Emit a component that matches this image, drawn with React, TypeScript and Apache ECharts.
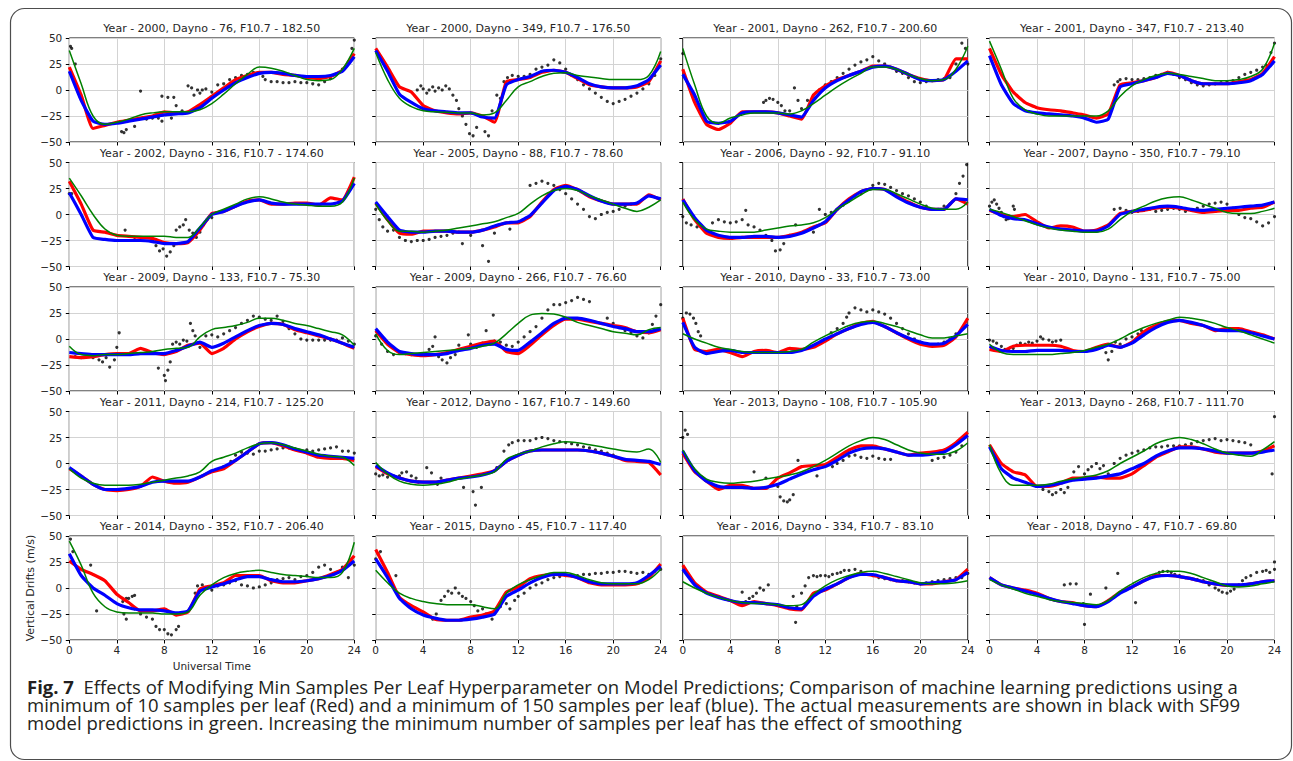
import React, { useEffect, useRef } from 'react';
import * as echarts from 'echarts';

const HOURS = [0, 1, 2, 3, 4, 5, 6, 7, 8, 9, 10, 11, 12, 13, 14, 15, 16, 17, 18, 19, 20, 21, 22, 23, 24];
const X_TICKS = [0, 4, 8, 12, 16, 20, 24];
const Y_TICKS = [-50, -25, 0, 25, 50];

const TITLES = [
  'Year - 2000, Dayno - 76, F10.7 - 182.50',
  'Year - 2000, Dayno - 349, F10.7 - 176.50',
  'Year - 2001, Dayno - 262, F10.7 - 200.60',
  'Year - 2001, Dayno - 347, F10.7 - 213.40',
  'Year - 2002, Dayno - 316, F10.7 - 174.60',
  'Year - 2005, Dayno - 88, F10.7 - 78.60',
  'Year - 2006, Dayno - 92, F10.7 - 91.10',
  'Year - 2007, Dayno - 350, F10.7 - 79.10',
  'Year - 2009, Dayno - 133, F10.7 - 75.30',
  'Year - 2009, Dayno - 266, F10.7 - 76.60',
  'Year - 2010, Dayno - 33, F10.7 - 73.00',
  'Year - 2010, Dayno - 131, F10.7 - 75.00',
  'Year - 2011, Dayno - 214, F10.7 - 125.20',
  'Year - 2012, Dayno - 167, F10.7 - 149.60',
  'Year - 2013, Dayno - 108, F10.7 - 105.90',
  'Year - 2013, Dayno - 268, F10.7 - 111.70',
  'Year - 2014, Dayno - 352, F10.7 - 206.40',
  'Year - 2015, Dayno - 45, F10.7 - 117.40',
  'Year - 2016, Dayno - 334, F10.7 - 83.10',
  'Year - 2018, Dayno - 47, F10.7 - 69.80',
];

// SF99 model (green), hourly
const GREEN = [
  [38, 6, -25, -33, -31, -28, -24, -22, -21, -21, -21, -19, -13, -4, 6, 15, 22, 21, 18, 14, 10, 9, 10, 20, 40],
  [36, 10, -8, -16, -20, -21, -21.5, -22, -22, -24, -22, -10, 3, 8, 13, 16, 16.5, 14, 12.5, 11, 10, 10, 10, 14, 37],
  [40, 5, -25, -32, -27, -24, -22, -22, -22, -23, -20, -13, -5, 3, 10, 16, 22, 22, 20, 15, 11, 9, 10, 20, 42],
  [47, 20, -8, -19, -23, -25, -25, -25, -25, -25, -20, -6, 4, 10, 14, 16, 15, 13, 11, 9, 9, 10, 13, 20, 45],
  [35, 18, 0, -14, -20, -21, -21, -21, -21, -22, -22, -12, 0, 5, 10, 15, 17, 15, 12, 10, 9, 8, 8, 12, 35],
  [10, -6, -16, -16, -17, -16, -15, -13, -11, -9, -7, -3, 1, 10, 18, 23, 25, 23, 18, 14, 10, 6, 3, 7, 14],
  [12, -5, -14, -16, -17, -17, -17, -15, -13, -11, -10, -8, -3, 5, 12, 19, 24, 24, 20, 15, 10, 6, 5, 5, 12],
  [5, 2, -2, -6, -10, -13, -15, -16, -17, -17, -14, -5, 3, 8, 13, 16, 17, 14, 10, 6, 2, 1, 1, 3, 6],
  [-7, -15, -16, -15, -15, -14, -13, -12, -10, -9, -8, 2, 9, 11, 13, 16, 20, 20, 18, 15, 13, 10, 7, 4, -6],
  [5, -11, -15, -14, -13, -12, -11, -10, -9, -7, -4, 5, 15, 23, 24.5, 24, 21, 16, 13, 10, 7, 5.5, 4, 9, 11],
  [5, 0, -4, -8, -10, -12, -13, -13, -13, -12, -10, -3, 3, 8, 13, 16, 17, 15, 12, 8, 4, 1, 1, 3, 5],
  [-5, -13, -15, -15, -15, -15, -14, -13, -11, -8, -5, 0, 6, 11, 15, 18, 21, 20, 18, 15, 11, 8, 4, 0, -4],
  [-5, -14, -19, -21, -21, -21, -20, -18, -16, -14, -12, -8, 2, 6, 10, 15, 19, 20, 18, 15, 12, 9, 7, 6, -2],
  [1, -10, -17, -20, -21, -20, -18, -15, -13, -11, -8, 4, 9, 12, 16, 19, 21, 20, 18, 16, 14, 12, 11, 14, 1],
  [13, -5, -15, -18, -19, -18, -17, -15, -13, -11, -8, -3, 3, 10, 17, 22, 25, 23, 18, 13, 10, 9, 9, 12, 20],
  [18, -10, -21, -21, -21, -20, -17, -15, -13, -11, -7, 0, 6, 12, 19, 23, 25, 23, 19, 14, 10, 8, 7, 13, 21],
  [45, 22, -5, -18, -23, -24, -24, -24, -25, -25, -23, -7, 3, 10, 14, 16, 17, 15, 13, 12, 11, 10, 10, 15, 44],
  [17, 5, -5, -10, -13, -15, -16, -16, -16, -18, -20, -5, 3, 8, 12, 15, 15, 12, 8, 5, 4, 4, 4, 8, 18],
  [6, 0, -5, -9, -12, -14, -15, -15, -16, -17, -16, -6, 2, 8, 12, 15, 16, 14, 11, 8, 5, 4, 4, 5, 7],
  [8, 3, -1, -5, -8, -11, -13, -14, -15, -16, -12, -3, 4, 10, 14, 16, 16, 14, 10, 6, 2, 1, 2, 4, 6],
];

// ML prediction, min 10 samples per leaf (red), hourly
const RED = [
  [22, -5, -37, -34, -31, -29, -27, -25, -21, -22, -21, -14, -6, 2, 10, 14, 17, 17, 15, 14, 12, 11, 13, 19, 35],
  [40, 22, 3, -2, -15, -20, -22, -23, -22, -25, -31, 8, 10, 12, 17, 19, 17, 11, 5, 3, 2, 2, 3, 8, 28],
  [20, -12, -33, -38, -32, -21, -21, -21, -22, -25, -28, -5, 4, 10, 14, 18, 23, 23, 20, 15, 11, 9, 10, 30, 30],
  [40, 15, -2, -12, -17, -19, -20, -22, -24, -27, -23, 5, 7, 9, 12, 17, 14, 9, 6, 6, 6, 8, 10, 16, 32],
  [32, 10, -15, -17, -20, -21, -22, -23, -27, -28, -27, -15, 1, 3, 8, 13, 14, 10, 10, 11, 11, 9, 16, 14, 36],
  [11, -5, -18, -19, -16, -16, -16, -17, -17, -15, -12, -8, -8, -2, 12, 24, 28, 24, 17, 13, 10, 10, 10, 19, 14],
  [15, -5, -18, -22, -23, -22, -22, -22, -22, -20, -17, -12, -8, 5, 15, 22, 25, 24, 18, 12, 7, 5, 5, 15, 10],
  [4, 0, -2, 0, -7, -13, -11, -12, -16, -15, -10, 1, 3, 4, 6, 7, 6, 4, 2, 3, 4, 4, 6, 7, 12],
  [-17, -18, -17, -15, -14, -14, -9, -13, -15, -12, -6, -4, -14, -9, 0, 7, 12, 15, 14, 9, 6, 3, 0, -4, -9],
  [8, -5, -13, -15, -16, -15, -13, -10, -7, -4, -2, -12, -14, -6, 4, 13, 19, 19, 17, 15, 13, 11, 7, 6, 9],
  [20, -10, -12, -10, -13, -17, -12, -11, -13, -9, -10, -8, -2, 5, 10, 15, 17, 12, 6, 0, -5, -7, -6, 2, 20],
  [-10, -12, -7, -6, -6, -6, -7, -11, -12, -8, -5, -8, -3, 7, 13, 17, 18, 15, 13, 8, 10, 10, 7, 4, 0],
  [-5, -12, -20, -25, -26, -25, -22, -13, -17, -19, -18, -13, -8, -5, 3, 11, 19, 20, 17, 13, 10, 6, 5, 5, 3],
  [-3, -10, -14, -17, -18, -18, -16, -14, -12, -10, -7, 2, 8, 12, 13, 13, 13, 13, 12, 10, 7, 3, 2, 1, -11],
  [10, -8, -17, -25, -21, -21, -24, -24, -14, -9, -3, -2, -1, 6, 13, 17, 17, 14, 11, 8, 10, 11, 13, 20, 30],
  [18, 0, -8, -11, -22, -22, -19, -14, -14, -13, -14, -14, -10, -2, 6, 11, 16, 16, 14, 11, 10, 10, 10, 12, 17],
  [26, 18, 13, 7, -6, -14, -22, -22, -20, -26, -23, -1, 2, 5, 12, 12, 12, 7, 5, 5, 7, 9, 13, 18, 31],
  [37, 15, -9, -17, -23, -30, -31, -31, -28, -26, -22, -4, 1, 9, 12, 13, 12, 10, 5, 3, 3, 3, 4, 10, 23],
  [22, 5, -4, -8, -12, -17, -13, -15, -17, -20, -21, -5, -2, 4, 10, 14, 12, 10, 7, 6, 4, 4, 6, 8, 18],
  [10, 3, 0, -2, -5, -10, -13, -14, -17, -18, -12, -4, 1, 7, 12, 12, 11, 9, 6, 4, 2.5, 2.5, 4, 6, 7],
];

// ML prediction, min 150 samples per leaf (blue), hourly
const BLUE = [
  [18, -10, -30, -33, -32, -30, -28, -26, -24, -23, -22, -17, -8, 0, 7, 12, 16, 17, 16, 14, 13, 13, 14, 18, 32],
  [38, 18, -4, -12, -18, -20, -21, -22, -22, -26, -27, 5, 10, 13, 18, 19, 17, 12, 6, 3, 2, 2, 4, 10, 24],
  [15, -5, -30, -32, -30, -22, -21, -21, -22, -24, -26, -10, 2, 9, 14, 18, 22, 23, 20, 15, 10, 9, 10, 18, 28],
  [33, 5, -13, -20, -22, -23, -24, -25, -27, -31, -28, 3, 6, 9, 12, 16, 14, 9, 6, 6, 6, 7, 9, 15, 28],
  [21, 0, -22, -24, -25, -25, -25, -26, -28, -28, -26, -13, 0, 3, 8, 12, 14, 11, 10, 10, 10, 10, 10, 13, 30],
  [12, -2, -15, -17, -17, -16, -16, -17, -17, -15, -11, -8, -7, -1, 11, 23, 27, 24, 18, 13, 10, 10, 11, 18, 15],
  [14, -3, -15, -20, -22, -22, -21, -21, -22, -21, -18, -13, -7, 5, 14, 22, 25, 24, 17, 11, 7, 5, 5, 15, 14],
  [5, -1, -4, -5, -9, -12, -14, -15, -16, -16, -11, 0, 3, 5, 7, 8, 7, 5, 4, 5, 6, 7, 8, 9, 12],
  [-13, -14, -15, -15, -15, -15, -14, -14, -14, -11, -7, -3, -8, -4, 2, 8, 13, 15, 14, 10, 7, 4, 0, -4, -8],
  [10, -3, -12, -14, -15, -15, -14, -11, -9, -6, -5, -10, -11, -3, 6, 15, 20, 20, 18, 15, 12, 10, 7, 7, 10],
  [16, -8, -14, -12, -11, -13, -13, -13, -13, -13, -11, -6, 0, 5, 10, 14, 16, 12, 6, 1, -3, -5, -4, 3, 14],
  [-7, -11, -12, -12, -11, -11, -11, -12, -12, -10, -6, -8, -4, 4, 11, 16, 18, 16, 13, 9, 8, 8, 6, 3, 0],
  [-4, -12, -20, -25, -25, -24, -22, -18, -17, -17, -17, -13, -7, -3, 3, 11, 19, 20, 18, 14, 11, 8, 7, 6, 5],
  [-2, -9, -14, -17, -18, -18, -16, -14, -13, -11, -7, 2, 8, 12, 13, 13, 13, 13, 12, 10, 7, 4, 3, 2, -1],
  [12, -7, -17, -22, -23, -23, -24, -23, -20, -15, -10, -6, -3, 3, 10, 14, 15, 14, 11, 8, 8, 9, 11, 18, 27],
  [16, -5, -14, -18, -22, -21, -19, -16, -15, -14, -12, -10, -5, 0, 7, 12, 15, 15, 14, 12, 10, 10, 10, 11, 13],
  [33, 12, 0, -7, -15, -19, -21, -21, -22, -24, -22, -3, 1, 4, 8, 11, 11, 8, 6, 6, 7, 9, 12, 17, 26],
  [28, 10, -10, -20, -26, -29, -31, -31, -30, -28, -25, -8, -2, 5, 10, 13, 13, 10, 6, 4, 4, 4, 5, 12, 21],
  [18, 3, -5, -9, -12, -14, -14, -15, -16, -19, -20, -8, -1, 4, 10, 13, 13, 10, 7, 6, 4, 5, 6, 8, 15],
  [10, 3, 0, -3, -6, -10, -13, -15, -17, -18, -13, -5, 1, 7, 11, 12, 11, 9, 6, 4, 3, 3, 4, 6, 7],
];

// Actual measurements (black), [UT, drift]
const BLACK = [
  [[0.1, 42], [0.2, 40], [0.5, 25], [6, -1], [4.4, -40], [4.6, -41], [4.8, -38], [5.5, -35], [6.5, -28], [7, -27], [7.5, -27], [7.8, -30], [7.8, -6], [8.3, -7], [8.8, -7], [9, -15], [8.6, -27], [9.5, -20], [10, 4], [10.3, 2], [10.5, -5], [10.8, 0], [11, -3], [11.2, 0], [11.5, 1], [12, -2], [12.5, 5], [13, 6], [13.5, 10], [14, 12], [14.5, 14], [15, 15], [15.5, 17], [16, 16], [16.3, 13], [16.5, 10], [17, 8], [17.5, 8], [18, 7], [18.5, 7], [19, 8], [19.5, 7], [20, 7], [20.5, 6], [21, 5], [21.5, 8], [22, 11], [22.5, 15], [23, 20], [23.5, 27], [23.8, 40], [24, 48]],
  [[3.5, 0], [3.8, 4], [4, 1], [4.3, -3], [4.5, 0], [4.8, 3], [5, -1], [5.3, 2], [5.6, 0], [5.9, 4], [6.2, 1], [6.5, -5], [6.8, -10], [7, -18], [7.3, -25], [7.6, -33], [7.9, -42], [8.2, -44], [8.5, -36], [8.8, -25], [9.2, -40], [9.5, -44], [9.8, -20], [10.2, -5], [10.5, -8], [10.8, 8], [11.1, 12], [11.5, 14], [12, 13], [12.5, 13], [13, 15], [13.5, 20], [14, 22], [14.5, 24], [15, 29], [15.5, 26], [16, 20], [16.5, 14], [17, 10], [17.5, 5], [18, 1], [18.5, -3], [19, -7], [19.5, -11], [20, -13], [20.5, -11], [21, -9], [21.5, -6], [22, -3], [22.5, 1], [23, 6], [23.5, 14], [24, 30]],
  [[0, 35], [6.8, -12], [7, -10], [7.3, -8], [7.6, -9], [8, -12], [8.3, -15], [8.6, -20], [9, -20], [9.4, 2], [9.7, -10], [10, -18], [10.5, -10], [11, -5], [11.5, 0], [12, 5], [12.5, 8], [13, 12], [13.5, 16], [14, 20], [14.5, 24], [15, 27], [15.5, 29], [16, 32], [16.5, 28], [17, 25], [17.5, 22], [18, 18], [18.5, 16], [19, 12], [19.5, 8], [20, 7], [20.5, 8], [21, 9], [21.5, 10], [22, 11], [22.5, 12], [23, 25], [23.5, 45], [23.8, 40], [24, 25]],
  [[10.5, 5], [10.8, 8], [11, 10], [11.5, 11], [12, 10], [12.5, 10], [13, 11], [13.5, 12], [14, 14], [14.5, 15], [15, 17], [15.5, 15], [16, 12], [16.5, 10], [17, 7], [17.5, 5], [18, 4], [18.5, 5], [19, 6], [19.5, 7], [20, 8], [20.5, 9], [21, 12], [21.5, 15], [22, 17], [22.5, 19], [23, 22], [23.3, 24], [23.7, 36], [24, 45]],
  [[0, 20], [0.2, 20], [4.7, -15], [5.5, -22], [7, -25], [7.3, -30], [7.6, -35], [7.9, -33], [8.2, -40], [8.5, -36], [8.8, -30], [9, -15], [9.3, -12], [9.6, -10], [9.8, -5], [10.1, -15], [10.4, -18], [10.7, -22], [11, -17], [11.3, -10], [11.6, -5], [12, -3]],
  [[0, 5], [0.3, -5], [0.6, -12], [1, -16], [1.5, -15], [2, -22], [2.5, -25], [3, -26], [3.5, -25], [4, -25], [4.5, -24], [5, -22], [5.5, -21], [6, -20], [6.5, -18], [7, -17], [7.3, -28], [8, -20], [9, -30], [9.5, -45], [10, -18], [11.3, -14], [13, 28], [13.5, 30], [14, 32], [14.5, 30], [15, 28], [15.5, 24], [16, 20], [16.5, 15], [17, 10], [17.5, 5], [18, -2], [18.5, -4], [19, 0], [19.5, 2], [20, 3], [20.5, 5], [21, 8], [21.5, 10]],
  [[0, -2], [0.3, -8], [0.7, -10], [1.2, -12], [1.8, -15], [2.5, -8], [3, -5], [3.5, -7], [4, -8], [4.5, -7], [5, -5], [5.3, 4], [5.5, -10], [6, -12], [6.5, -15], [7, -20], [7.5, -25], [7.8, -35], [8.2, -34], [8.5, -28], [9, -20], [9.5, -10], [11, -17], [11.5, 5], [12, 0], [12.5, 2], [13, 5], [13.5, 9], [14, 13], [14.5, 18], [15, 20], [15.5, 24], [16, 28], [16.5, 30], [17, 29], [17.5, 26], [18, 23], [18.5, 20], [19, 18], [19.5, 15], [20, 12], [20.5, 8], [21, 5], [21.5, 5], [22, 8], [22.5, 10], [23, 20], [23.3, 30], [23.6, 37], [23.9, 48]],
  [[0, 8], [0.2, 12], [0.4, 14], [0.6, 10], [0.8, 6], [1, 2], [1.2, -2], [1.4, -5], [1.6, -4], [2, 8], [2.1, 5], [10.5, 5], [11, 6], [11.5, 4], [12, 2], [12.5, 3], [13, 4], [13.5, 5], [14, 3], [14.5, 4], [15, 5], [15.5, 6], [16, 5], [16.5, 3], [17, 4], [17.5, 6], [18, 8], [18.5, 10], [19, 11], [19.5, 12], [20, 10], [20.5, 6], [21, 0], [21.5, -3], [22, -4], [22.5, -7], [23, -11], [23.5, -8], [24, -2]],
  [[0.5, -17], [1, -18], [2, -18], [2.5, -20], [2.8, -22], [3.1, -18], [3.4, -27], [3.8, -20], [4, -8], [4.2, 6], [7.5, -28], [8, -35], [8.1, -40], [8.3, -30], [8.5, -22], [8.7, -5], [9, -3], [9.3, -5], [9.6, -1], [9.9, -2], [10.2, 15], [10.4, 8], [10.6, 3], [11, -8], [11.5, 3], [12, 4], [12.5, 2], [13, 5], [13.5, 8], [14, 11], [14.5, 15], [15, 18], [15.5, 22], [16, 21], [16.5, 19], [17, 18], [17.5, 22], [18, 17], [18.5, 10], [19, 5], [19.5, 0], [20, -1], [20.5, -1], [21, -1], [21.5, -1], [22, -1], [22.5, -1], [23, 1], [23.5, -2], [24, -5]],
  [[0, 3], [0.5, -5], [1, -12], [1.5, -15], [2, -13], [2.5, -14], [3, -15], [3.5, -15], [4, -14], [4.5, -10], [4.8, -7], [5, 2], [5.3, -17], [5.6, -20], [6, -23], [6.3, -18], [6.7, -15], [7, -6], [7.3, -10], [7.8, 4], [8, -5], [8.5, -8], [9, -4], [9.3, 8], [9.5, -4], [9.9, 23], [10, -2], [10.5, -3], [11, -6], [11.5, -7], [12, -3], [12.5, 2], [13, 7], [13.5, 12], [14, 20], [14.5, 28], [15, 33], [15.5, 33], [16, 35], [16.5, 37], [17, 40], [17.5, 38], [18, 36], [19.5, 20], [20, 15], [20.5, 11], [21, 8], [21.5, 6], [22, 3], [22.5, 1], [23, 6], [23.3, 14], [23.6, 22], [24, 33]],
  [[0, 20], [0.3, 25], [0.6, 24], [0.9, 20], [1.1, 15], [1.3, 7], [1.5, 3], [12.5, 6], [13, 10], [13.5, 15], [13.8, 21], [14, 25], [14.5, 30], [15, 28], [15.5, 26], [16, 28], [16.5, 26], [17, 24], [17.5, 20], [18, 15], [18.5, 10], [19, 5], [19.5, 0], [20, -3], [20.5, -5], [21, -6], [21.5, -5], [22, -3], [22.5, 0], [23, 5]],
  [[0, -1], [0.3, -2], [0.6, -4], [1, -7], [1.3, -10], [1.6, -11], [2, -9], [2.3, -6], [2.6, -4], [3, -5], [3.3, -3], [3.6, -4], [4, -2], [4.3, 2], [4.5, 0], [5, -1], [5.3, -3], [5.6, -2], [6, -1], [9.5, -8], [9.8, -13], [10, -20], [10.3, -12], [10.6, -3], [11, -5], [11.5, 0], [12, 2], [12.5, 5], [12.8, 8], [13, 4]],
  [[13, -3], [13.3, -2], [13.6, 2], [14, 8], [14.5, 11], [15, 10], [15.5, 9], [16, 12], [16.5, 12], [17, 13], [17.5, 14], [18, 15], [18.5, 15], [19, 14], [19.5, 12], [20, 13], [20.5, 12], [21, 13], [21.5, 14], [22, 15], [22.5, 16], [23, 12], [23.5, 12], [24, 10]],
  [[0, -10], [0.3, -12], [0.6, -11], [1, -13], [1.5, -12], [2, -12], [2.2, -9], [2.6, -8], [3, -12], [3.4, -14], [3.6, -18], [4.3, -4], [4.7, -9], [5.2, -20], [5.5, -14], [7.4, -23], [8.2, -27], [8.4, -40], [8.9, -23], [10.2, -4], [10.8, 12], [11.2, 18], [11.5, 20], [12, 22], [12.5, 22], [13, 22], [13.5, 24], [14, 25], [14.5, 24], [15, 22], [15.5, 21], [16, 20], [16.5, 19], [17, 18], [17.5, 16], [18, 15], [18.5, 13], [19, 12], [19.5, 10], [20, 8]],
  [[0, 25], [0.2, 32], [0.4, 28], [6, -8], [7, -14], [8, -22], [8.2, -32], [8.5, -36], [8.8, -37], [9, -35], [9.3, -30], [9.7, 3], [11.3, -12], [12.3, 0], [12.6, -3], [13, 0], [13.5, 3], [14, 7], [14.5, 8], [15, 6], [15.5, 5], [16, 7], [16.5, 5], [17, 4], [17.5, 4], [21, 3], [21.5, 5], [22, 6], [22.5, 8], [23, 11], [23.5, 17]],
  [[4.5, -25], [5, -27], [5.3, -30], [5.6, -28], [6, -25], [6.3, -28], [6.6, -23], [7.1, -8], [7.5, -3], [8, -10], [8.3, -6], [8.6, -3], [9, 0], [9.3, -5], [9.6, -2], [10, -10], [10.5, 0], [11, 5], [11.5, 8], [12, 10], [12.5, 12], [13, 13], [13.5, 15], [14, 16], [14.5, 16], [15, 17], [15.5, 17], [16, 17], [16.5, 18], [17, 19], [17.5, 21], [18, 22], [18.5, 23], [19, 24], [19.5, 22], [20, 23], [20.5, 22], [21, 21], [21.5, 20], [22, 18], [23.8, -10], [24, 45]],
  [[0.1, 47], [0.3, 35], [1.8, 22], [2.3, -22], [4.5, -13], [4.8, -10], [5, -10], [5.3, -8], [5.5, -7], [4.6, -25], [4.8, -30], [5.5, -20], [6, -25], [6.5, -28], [7, -30], [7.3, -37], [7.6, -40], [8, -40], [8.3, -44], [8.6, -45], [9, -40], [9.2, -37], [10.6, -5], [10.8, 2], [11.2, 3], [11.5, 0], [12, -2], [12.5, 2], [13, 3], [13.5, 5], [14, 7], [14.5, 3], [15, 2], [15.5, 0], [16, 1], [16.5, 3], [17, 5], [17.5, 8], [18, 9], [18.5, 10], [19, 8], [19.5, 11], [20, 12], [20.5, 15], [21, 20], [21.5, 22], [22, 18], [22.5, 15], [23, 20], [23.5, 10], [23.8, 25], [24, 22]],
  [[0, 28], [0.2, 33], [0.4, 35], [1.7, 12], [4.8, -30], [5.1, -25], [5.5, -12], [5.8, -8], [6.1, -3], [6.4, -5], [6.7, 0], [7, -5], [7.3, -8], [7.6, -10], [8, -13], [8.3, -17], [8.6, -22], [9, -20], [9.3, -25], [9.8, -30], [10, -25], [10.5, -18], [11, -15], [11.3, -20], [11.7, -12], [12, -8], [12.5, -5], [13, 0], [13.5, 3], [14, 5], [14.5, 8], [15, 10], [15.5, 11], [16, 12], [16.5, 12], [17, 12], [17.5, 13], [18, 13], [18.5, 14], [19, 14], [19.5, 15], [20, 15], [20.5, 16], [21, 16], [21.5, 15], [22, 14], [22.5, 15], [23, 13], [23.5, 16], [24, 18]],
  [[5, -4], [5.3, -13], [5.6, -10], [5.9, -8], [6.2, -5], [6.5, 0], [6.8, -2], [7.2, 3], [9.3, -8], [9.6, -18], [9.5, -33], [10, -5], [10.3, 2], [10.6, 10], [11, 12], [11.3, 11], [11.6, 12], [12, 12], [12.3, 11], [12.6, 13], [13, 14], [13.3, 15], [13.6, 17], [14, 17], [14.5, 18], [15, 16], [15.5, 13], [16, 12], [16.5, 10], [17, 9], [17.5, 8], [18, 7], [18.5, 7], [19, 6], [19.5, 5], [20, 4], [20.5, 5], [21, 6], [21.5, 7], [22, 8], [22.5, 9], [23, 10], [23.5, 10], [24, 14]],
  [[6.3, 3], [6.8, 4], [7.3, 4], [7.9, -15], [8, -35], [8.5, -6], [9.8, 0], [10.8, 14], [12.3, -14], [13.5, 10], [14, 13], [14.3, 15], [14.6, 16], [15, 16], [15.3, 15], [15.6, 13], [16, 12], [16.5, 10], [17, 9], [17.5, 8], [18, 7], [18.5, 3], [19, 0], [19.3, -2], [19.6, -4], [20, -5], [20.3, -3], [20.6, -1], [21, 3], [21.3, 7], [21.6, 10], [22, 12], [22.5, 15], [23, 16], [23.3, 17], [23.6, 15], [24, 18], [24, 25]],
];

const CAPTION_BOLD = 'Fig. 7';
const CAPTION_LINES = [
  'Effects of Modifying Min Samples Per Leaf Hyperparameter on Model Predictions; Comparison of machine learning predictions using a',
  'minimum of 10 samples per leaf (Red) and a minimum of 150 samples per leaf (blue). The actual measurements are shown in black with SF99',
  'model predictions in green. Increasing the minimum number of samples per leaf has the effect of smoothing',
];

const COL_LEFT = [69.3, 375.7, 682.8, 989.5];
const ROW_TOP = [38, 162.5, 287, 411.5, 536];
const GW = 285;
const GH = 104;
const MPL_FONT = 'DejaVu Sans, sans-serif';
const CAP_FONT = 'Open Sans, sans-serif';

export default function App() {
  const ref = useRef<HTMLDivElement>(null);
  useEffect(() => {
    const chart = echarts.init(ref.current!, null, { renderer: 'svg' });
    const grids: any[] = [];
    const xAxes: any[] = [];
    const yAxes: any[] = [];
    const series: any[] = [];
    const graphics: any[] = [];
    const fmt = (v: number) => String(v).replace('-', '\u2212');

    TITLES.forEach((title, i) => {
      const r = Math.floor(i / 4);
      const c = i % 4;
      grids.push({
        left: COL_LEFT[c], top: ROW_TOP[r], width: GW, height: GH,
        show: true, borderColor: '#000', borderWidth: 1, backgroundColor: 'transparent',
      });
      xAxes.push({
        gridIndex: i, type: 'value', min: X_TICKS[0], max: X_TICKS[X_TICKS.length - 1], interval: 4,
        axisLine: { show: false, onZero: false },
        axisTick: { show: true, length: 3.5, lineStyle: { color: '#000', width: 1 } },
        axisLabel: { show: r === 4, margin: 4, fontSize: 10.5, color: '#262626', fontFamily: MPL_FONT, formatter: fmt },
        splitLine: { show: true, lineStyle: { color: '#d3d3d3', width: 1 } },
      });
      yAxes.push({
        gridIndex: i, type: 'value', min: Y_TICKS[0], max: Y_TICKS[Y_TICKS.length - 1], interval: 25,
        axisLine: { show: false, onZero: false },
        axisTick: { show: true, length: 3.5, lineStyle: { color: '#000', width: 1 } },
        axisLabel: { show: c === 0, margin: 7, fontSize: 10.5, color: '#262626', fontFamily: MPL_FONT, formatter: fmt },
        splitLine: { show: true, lineStyle: { color: '#d3d3d3', width: 1 } },
      });
      const mk = (vals: number[]) => HOURS.map((h, k) => [h, vals[k]]);
      series.push({
        type: 'line', xAxisIndex: i, yAxisIndex: i, data: mk(RED[i]), showSymbol: false,
        lineStyle: { color: '#ff0000', width: 3.2 }, smooth: 0.15,
      });
      series.push({
        type: 'line', xAxisIndex: i, yAxisIndex: i, data: mk(BLUE[i]), showSymbol: false,
        lineStyle: { color: '#0000ff', width: 3.2 }, smooth: 0.15,
      });
      series.push({
        type: 'line', xAxisIndex: i, yAxisIndex: i, data: mk(GREEN[i]), showSymbol: false,
        lineStyle: { color: '#008000', width: 1.5 }, smooth: 0.4,
      });
      series.push({
        type: 'scatter', xAxisIndex: i, yAxisIndex: i, data: BLACK[i], symbol: 'circle', symbolSize: 3.2,
        itemStyle: { color: '#000' },
      });
      graphics.push({
        type: 'text', x: COL_LEFT[c] + GW / 2, y: ROW_TOP[r] - 9.5,
        style: { text: title, textAlign: 'center', textVerticalAlign: 'middle', fontSize: 11, fontFamily: MPL_FONT, fill: '#262626' },
      });
    });

    graphics.push({
      type: 'rect', shape: { x: 10.5, y: 8.5, width: 1281, height: 751, r: 14 },
      style: { fill: 'none', stroke: '#4d4d4d', lineWidth: 1.2 }, z: -1,
    });
    graphics.push({
      type: 'text', x: 30, y: ROW_TOP[4] + GH / 2, rotation: Math.PI / 2,
      style: { text: 'Vertical Drifts (m/s)', textAlign: 'center', textVerticalAlign: 'middle', fontSize: 11, fontFamily: MPL_FONT, fill: '#262626' },
    });
    graphics.push({
      type: 'text', x: COL_LEFT[0] + GW / 2, y: 666,
      style: { text: 'Universal Time', textAlign: 'center', textVerticalAlign: 'middle', fontSize: 10.5, fontFamily: MPL_FONT, fill: '#262626' },
    });
    graphics.push({
      type: 'text', x: 27, y: 704.5,
      style: {
        text: '{b|' + CAPTION_BOLD + '}  ' + CAPTION_LINES.join('\n'),
        textAlign: 'left', textVerticalAlign: 'middle',
        fontSize: 18.5, lineHeight: 17.8, fontFamily: CAP_FONT, fill: '#231f20',
        rich: {
          b: { fontSize: 18.5, lineHeight: 17.8, fontWeight: 'bold', fontFamily: CAP_FONT, fill: '#231f20' },
        },
      },
    });

    chart.setOption({
      animation: false,
      backgroundColor: '#fff',
      grid: grids,
      xAxis: xAxes,
      yAxis: yAxes,
      series,
      graphic: graphics,
    });
    return () => chart.dispose();
  }, []);
  return <div ref={ref} style={{ position: 'fixed', left: 0, top: 0, width: 1293, height: 761 }} />;
}
